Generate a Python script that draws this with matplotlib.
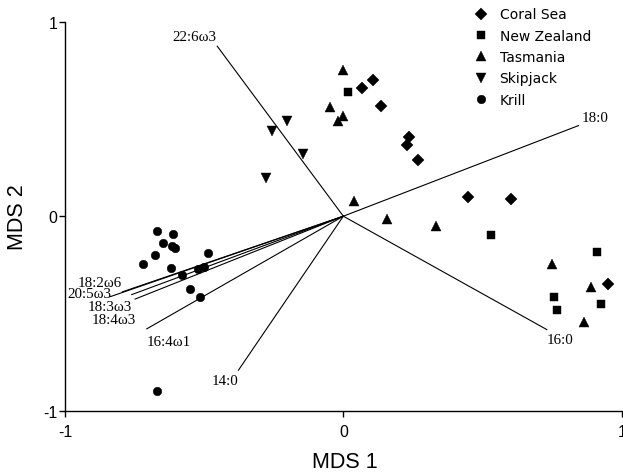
import matplotlib
matplotlib.use('Agg')
import matplotlib.pyplot as plt

# site scores (MDS 1, MDS 2)
coral_x = [0.067, 0.108, 0.137, 0.236, 0.228, 0.270, 0.447, 0.601, 0.952]
coral_y = [0.658, 0.700, 0.568, 0.406, 0.365, 0.290, 0.100, 0.087, -0.351]

nz_x = [0.016, 0.530, 0.910, 0.756, 0.769, 0.925]
nz_y = [0.640, -0.098, -0.185, -0.413, -0.480, -0.449]

tas_x = [0.000, -0.047, -0.002, -0.018, 0.037, 0.158, 0.333, 0.749, 0.890, 0.866]
tas_y = [0.754, 0.562, 0.514, 0.492, 0.076, -0.012, -0.048, -0.245, -0.365, -0.545]

skip_x = [-0.201, -0.257, -0.146, -0.279]
skip_y = [0.488, 0.437, 0.322, 0.197]

krill_x = [-0.669, -0.613, -0.649, -0.615, -0.604, -0.676, -0.719, -0.486,
           -0.620, -0.578, -0.521, -0.500, -0.550, -0.515, -0.669]
krill_y = [-0.077, -0.094, -0.137, -0.151, -0.163, -0.202, -0.245, -0.190,
           -0.265, -0.301, -0.270, -0.260, -0.375, -0.414, -0.900]

# fatty acid vectors
fa_names = ['22:6\u03c93', '18:0', '16:0', '14:0', '16:4\u03c91',
            '18:2\u03c96', '20:5\u03c93', '18:3\u03c93', '18:4\u03c93']
fa_x = [-0.453, 0.845, 0.731, -0.377, -0.706, -0.794, -0.838, -0.760, -0.748]
fa_y = [0.874, 0.466, -0.583, -0.792, -0.579, -0.389, -0.414, -0.403, -0.426]

# where each label sits relative to the end of its arrow (points, alignment)
label_pos = [((-0.7, 7.2), 'right'), ((2.4, 5.5), 'left'), ((0, -7.2), 'left'),
             ((0, -7.4), 'right'), ((0, -9.4), 'left'), ((0, 7.0), 'right'),
             ((1.0, 2.2), 'right'), ((0, -8.8), 'right'), ((0.7, -14.8), 'right')]

fig = plt.figure(figsize=(6.23, 4.77), dpi=100)
ax = fig.add_axes([0.1043, 0.1369, 0.8936, 0.8155])

for x, y, name, (off, ha) in zip(fa_x, fa_y, fa_names, label_pos):
    ax.plot([0, x], [0, y], color='black', lw=0.8, zorder=1)
    ax.annotate(name, (x, y), xytext=off, textcoords='offset points',
                ha=ha, va='center', fontsize=10.8, family='Liberation Serif')

ax.plot(coral_x, coral_y, 'D', color='black', ms=6.3, mew=0.3, ls='none', label='Coral Sea')
ax.plot(nz_x, nz_y, 's', color='black', ms=6.4, mew=0.3, ls='none', label='New Zealand')
ax.plot(tas_x, tas_y, '^', color='black', ms=7.3, mew=0.3, ls='none', label='Tasmania')
ax.plot(skip_x, skip_y, 'v', color='black', ms=7.3, mew=0.3, ls='none', label='Skipjack')
ax.plot(krill_x, krill_y, 'o', color='black', ms=6.2, mew=0.3, ls='none', label='Krill')

ax.set_xlim(-1, 1)
ax.set_ylim(-1, 1)
ax.set_xticks([-1, 0, 1])
ax.set_yticks([-1, 0, 1])
ax.set_xticklabels(['-1', '0', '1'], family='Liberation Sans', fontsize=11.5)
ax.set_yticklabels(['-1', '0', '1'], family='Liberation Sans', fontsize=11.5)
ax.tick_params(axis='both', direction='out', length=4, width=1)
ax.tick_params(axis='x', pad=5.5)
ax.tick_params(axis='y', pad=1.5)
for side in ['top', 'right']:
    ax.spines[side].set_visible(False)
for side in ['left', 'bottom']:
    ax.spines[side].set_linewidth(1)

ax.set_xlabel('MDS 1', family='Liberation Sans', fontsize=15.5)
ax.set_ylabel('MDS 2', family='Liberation Sans', fontsize=15.5)
ax.xaxis.set_label_coords(0.503, -0.104)
ax.yaxis.set_label_coords(-0.066, 0.5)

fig.legend(loc='upper left', bbox_to_anchor=(0.749, 0.997), frameon=False,
           borderpad=0, handlelength=1.0, handletextpad=0.87, labelspacing=0.53,
           prop={'family': 'DejaVu Sans', 'size': 10})

fig.savefig('out.png', dpi=100)
